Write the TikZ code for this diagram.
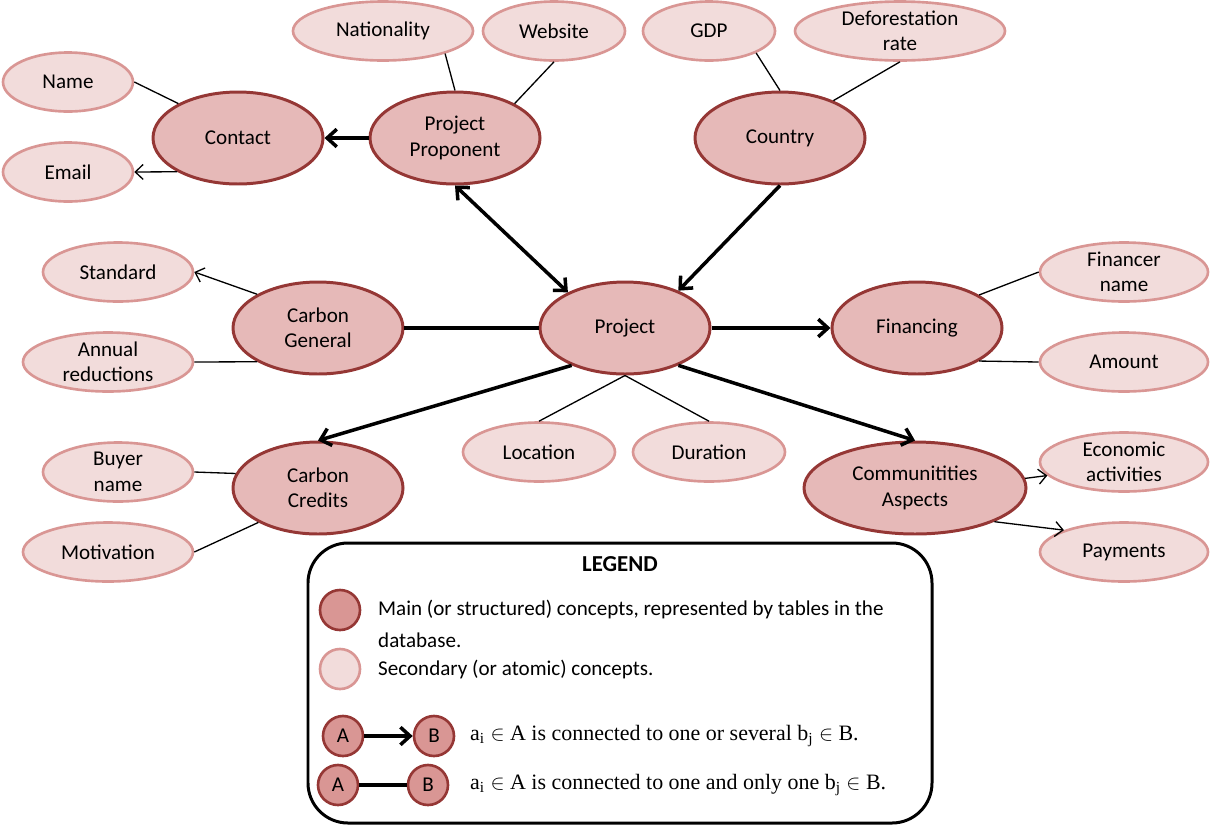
\documentclass[tikz,border=0pt]{standalone}
\usepackage{fontspec}
\setmainfont{Carlito}
\newfontfamily\legendserif{Liberation Serif}
\usetikzlibrary{arrows.meta,shapes.geometric}

\definecolor{mainfill}{HTML}{E6B9B8}
\definecolor{maindraw}{HTML}{953735}
\definecolor{attrfill}{HTML}{F2DCDB}
\definecolor{attrdraw}{HTML}{D99694}
\definecolor{keyfill}{HTML}{D99694}

\tikzset{
  concept/.style={ellipse, draw=maindraw, fill=mainfill, line width=1.7pt,
    minimum width=#1*0.02cm, minimum height=1.84cm, inner sep=0pt,
    align=center, font=\fontsize{12}{14.5}\selectfont},
  concept/.default=170,
  attr/.style={ellipse, draw=attrdraw, fill=attrfill, line width=1.5pt,
    minimum width=#1*0.02cm, minimum height=1.18cm, inner sep=0pt,
    align=center, font=\fontsize{12}{14.5}\selectfont},
  attr/.default=150,
  many/.style={line width=2pt, -{Straight Barb[length=5.5pt,width=10pt]}},
  one/.style={line width=2pt},
  thin/.style={line width=0.75pt},
  thinto/.style={line width=0.75pt, -{Straight Barb[length=4.5pt,width=8.5pt]}},
  keydot/.style={circle, draw=#1, line width=1.5pt, minimum size=0.8cm, inner sep=0pt,
    font=\fontsize{12}{14}\selectfont},
}

\begin{document}
\begin{tikzpicture}[x=0.02cm, y=-0.02cm]
    \useasboundingbox (0,0) rectangle (1210,826);

    % main concepts
    \node[concept] (contact) at (238,138) {Contact};
    \node[concept] (prop) at (455,138) {Project\\Proponent};
    \node[concept] (country) at (780,138) {Country};
    \node[concept] (cg) at (318,328) {Carbon\\General};
    \node[concept] (project) at (625,328) {Project};
    \node[concept] (fin) at (917,328) {Financing};
    \node[concept] (cc) at (318,488) {Carbon\\Credits};
    \node[concept=222] (ca) at (915,488) {Communitities\\Aspects};

    % secondary concepts
    \node[attr=130] (name) at (68,82) {Name};
    \node[attr=130] (email) at (68,172) {Email};
    \node[attr=180] (nat) at (383,31) {Nationality};
    \node[attr=142] (web) at (554,31) {Website};
    \node[attr=132] (gdp) at (709,31) {GDP};
    \node[attr=210] (defor) at (900,31) {Deforestation\\rate};
    \node[attr] (std) at (118,272) {Standard};
    \node[attr=170] (annual) at (108,362) {Annual\\reductions};
    \node[attr=168] (financer) at (1124,272) {Financer\\name};
    \node[attr=168] (amount) at (1124,362) {Amount};
    \node[attr=152] (loc) at (539,452) {Location};
    \node[attr=152] (dur) at (709,452) {Duration};
    \node[attr] (buyer) at (118,472) {Buyer\\name};
    \node[attr=170] (motiv) at (108,552) {Motivation};
    \node[attr=168] (econ) at (1124,462) {Economic\\activities};
    \node[attr=168] (pay) at (1124,552) {Payments};

    % links between main concepts
    \draw[many] (prop.west) -- (contact.east);
    \draw[many, {Straight Barb[length=5.5pt,width=10pt]}-{Straight Barb[length=5.5pt,width=10pt]}] (prop.south) -- (project.148);
    \draw[many] (country.south) -- (project.35);
    \draw[one] (cg.east) -- (project.west);
    \draw[many] (project.east) -- (fin.west);
    \draw[many] (project.215) -- (cc.north);
    \draw[many] (project.325) -- (ca.north);

    % links to secondary concepts
    \draw[thin] (contact.150) -- (name.east);
    \draw[thinto] (contact.209) -- (email.east);
    \draw[thin] (prop.north) -- (nat.340);
    \draw[thin] (prop.30) -- (web.south);
    \draw[thin] (country.north) -- (gdp.335);
    \draw[thin] (country.35) -- (defor.south);
    \draw[thinto] (cg.151) -- (std.east);
    \draw[thin] (cg.209) -- (annual.east);
    \draw[thin] (fin.28) -- (financer.west);
    \draw[thin] (fin.332) -- (amount.west);
    \draw[thin] (project.south) -- (loc.north);
    \draw[thin] (project.south) -- (dur.north);
    \draw[thin] (cc.170) -- (buyer.east);
    \draw[thin] (cc.210) -- (motiv.east);
    \draw[thinto] (ca.5) -- (econ.190);
    \draw[thinto] (ca.337) -- (pay.160);

    % legend
    \draw[line width=1.7pt, rounded corners=0.8cm] (308,543) rectangle (932,823);
    \node[font=\fontsize{13}{15}\selectfont\bfseries] (ltitle) at (620,564) {LEGEND};
    \node[keydot=maindraw, fill=keyfill] (kmain) at (340,610) {};
    \node[keydot=attrdraw, fill=attrfill] (kattr) at (340,669) {};
    \node[anchor=west, align=left, font=\fontsize{12}{18}\selectfont] (tmain) at (372,624)
      {Main (or structured) concepts, represented by tables in the\\database.};
    \node[anchor=west, font=\fontsize{12}{14}\selectfont] (tattr) at (372,669)
      {Secondary (or atomic) concepts.};
    \node[keydot=maindraw, fill=keyfill] (a1) at (343,736) {A};
    \node[keydot=maindraw, fill=keyfill] (b1) at (434,736) {B};
    \node[keydot=maindraw, fill=keyfill] (a2) at (338,785) {A};
    \node[keydot=maindraw, fill=keyfill] (b2) at (428,785) {B};
    \draw[many] (a1) -- (b1);
    \draw[one] (a2) -- (b2);
    \node[anchor=west, font=\legendserif\fontsize{12.5}{14}\selectfont] (tmany) at (464,736)
      {a\textsubscript{i} $\in$ A is connected to one or several b\textsubscript{j} $\in$ B.};
    \node[anchor=west, font=\legendserif\fontsize{12.5}{14}\selectfont] (tone) at (464,785)
      {a\textsubscript{i} $\in$ A is connected to one and only one b\textsubscript{j} $\in$ B.};
\end{tikzpicture}
\end{document}
